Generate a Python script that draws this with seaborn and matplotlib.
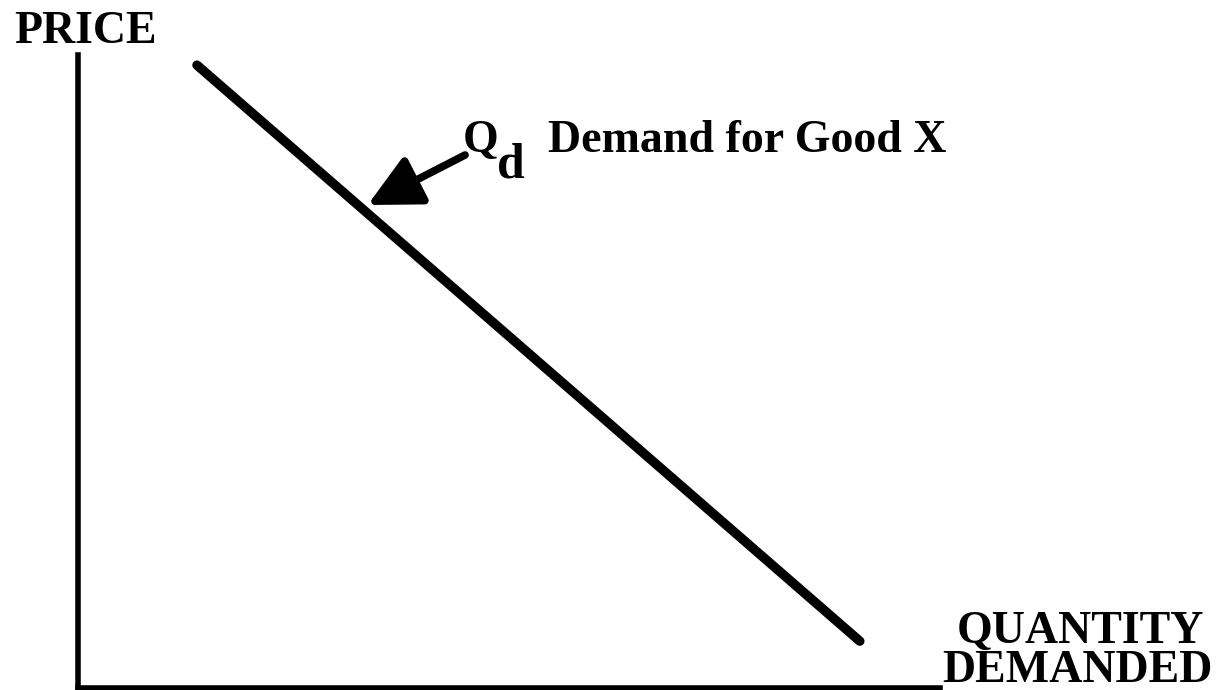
import matplotlib
matplotlib.use("Agg")
import matplotlib.pyplot as plt
import seaborn as sns
import pandas as pd

# --- DATA ---
quantity = [1.38, 9.07]
price = [9.84, 0.74]
arrow_tail = (4.49, 8.42)
arrow_tip = (3.36, 7.63)

W, H = 1220, 690

sns.set_style("white")
plt.rcParams['font.family'] = ['Liberation Serif', 'DejaVu Serif']
plt.rcParams['font.weight'] = 'bold'
plt.rcParams['text.color'] = 'black'

fig = plt.figure(figsize=(W / 100, H / 100), dpi=100)
ax = fig.add_axes([78 / W, 2 / H, (940 - 78) / W, (688 - 55) / H])

df = pd.DataFrame({'Quantity': quantity, 'Price': price})
sns.lineplot(data=df, x='Quantity', y='Price', ax=ax, color='black',
             linewidth=6.8, solid_capstyle='round', sort=False)

ax.annotate('', xy=arrow_tip, xytext=arrow_tail,
            arrowprops=dict(arrowstyle='-|>,head_length=1.6,head_width=0.8',
                            color='black', lw=5.5, capstyle='round',
                            mutation_scale=20, shrinkA=0, shrinkB=0))

ax.set_xlim(0, 10)
ax.set_ylim(0, 10)
ax.set_xticks([])
ax.set_yticks([])
ax.set_xlabel('')
ax.set_ylabel('')
for side in ['top', 'right']:
    ax.spines[side].set_visible(False)
for side in ['left', 'bottom']:
    ax.spines[side].set_linewidth(4)
    ax.spines[side].set_color('black')
    ax.spines[side].set_capstyle('projecting')


def label(x, y, s, size=33):
    fig.text(x / W, 1 - y / H, s, fontsize=size, fontweight='bold',
             color='black', va='baseline', ha='left')


label(14, 43, 'PRICE')
label(463, 152, 'Q')
label(497, 178, 'd', size=36)
label(548, 152, 'Demand for Good X')
label(957, 643, 'QUANTITY')
label(942, 682, 'DEMANDED')

fig.savefig('out.png', dpi=100)
